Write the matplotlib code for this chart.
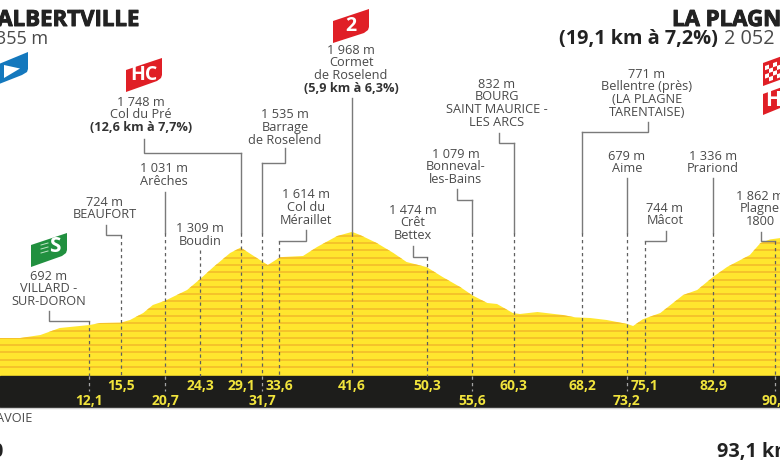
import numpy as np
import matplotlib
matplotlib.use('Agg')
import matplotlib.pyplot as plt
import matplotlib.patheffects as pe
from matplotlib.patches import Polygon, Rectangle

plt.rcParams['font.family'] = ['Open Sans', 'DejaVu Sans']

# profile
km_points = [1.6, 3.9, 6.2, 8.4, 11.8, 13.0, 15.3, 16.4, 17.9, 19.0, 20.4, 22.9, 24.4, 25.9, 27.8, 29.0,
             31.2, 32.1, 33.5, 36.1, 37.7, 40.0, 41.7, 42.6, 44.5, 46.4, 47.9, 50.2, 52.0, 54.0, 55.4,
             57.1, 58.2, 60.0, 60.8, 62.8, 65.7, 67.1, 68.8, 70.7, 73.0, 73.7, 74.8, 76.8, 79.4, 81.0,
             82.8, 84.4, 87.0, 88.2, 89.3, 90.5]
elev_points = [482, 482, 524, 622, 664, 692, 696, 734, 832, 944, 1004, 1154, 1309, 1476, 1672, 1748,
               1574, 1504, 1614, 1630, 1756, 1910, 1968, 1924, 1812, 1672, 1546, 1474, 1336, 1196, 1079,
               972, 958, 832, 818, 846, 804, 771, 762, 734, 679, 650, 744, 832, 1084, 1154,
               1336, 1476, 1644, 1812, 1862, 1882]

# drawn mark position, printed km and its row in the black band
tick_km = [11.73, 15.32, 20.44, 24.37, 29.04, 31.44, 33.37, 41.65, 50.26, 55.35, 60.08, 67.92, 73.0, 75.0, 82.8, 89.9]
tick_labels = ['12,1', '15,5', '20,7', '24,3', '29,1', '31,7', '33,6', '41,6', '50,3', '55,6', '60,3', '68,2',
               '73,2', '75,1', '82,9', '90,2']
tick_row = [1, 0, 1, 0, 0, 1, 0, 0, 0, 1, 0, 0, 1, 0, 0, 1]

place_names = [
    ['692 m', 'VILLARD -', 'SUR-DORON'],
    ['724 m', 'BEAUFORT'],
    ['1 031 m', 'Arêches'],
    ['1 309 m', 'Boudin'],
    ['1 748 m', 'Col du Pré', '(12,6 km à 7,7%)'],
    ['1 535 m', 'Barrage', 'de Roselend'],
    ['1 614 m', 'Col du', 'Méraillet'],
    ['1 968 m', 'Cormet', 'de Roselend', '(5,9 km à 6,3%)'],
    ['1 474 m', 'Crêt', 'Bettex'],
    ['1 079 m', 'Bonneval-', 'les-Bains'],
    ['832 m', 'BOURG', 'SAINT MAURICE -', 'LES ARCS'],
    ['771 m', 'Bellentre (près)', '(LA PLAGNE', 'TARENTAISE)'],
    ['679 m', 'Aime'],
    ['744 m', 'Mâcot'],
    ['1 336 m', 'Prariond'],
    ['1 862 m', 'Plagne', '1800'],
]

# layout in pixels: label centre x, first line y, stub x, stub top y, elbow y
label_xy = [(49, 276), (105, 202), (164, 169), (200, 229), (141, 102), (285, 115), (306, 195), (351, 50),
            (413, 210), (456, 154), (497, 84), (647, 74), (627, 156), (665, 208), (713, 156), (760, 196)]
stubs = [(49, 311, 321), (106, 225, 235), None, None, (144, 139, 153), (285, 148, 163), (306, 230, 241), None,
         (412.5, 246, 257), (457, 189, 200), (499, 133, 143), (647.5, 122, 132), None, (666, 231, 241), None,
         (761, 232, 241)]
line_tops = [None, None, 192, 250, None, None, None, 98, None, None, None, None, 178, None, 178, None]

YELLOW = '#ffe62e'
STRIPE = '#f3b92a'
BLACK = '#1d1d1b'
TEXT = '#4a4a4a'
LINE = '#7a7a7a'
NARROW = ['Liberation Sans Narrow', 'Open Sans']
BAND_TOP = 376
BAND_BOTTOM = 407
SOLID_END = 233

fig = plt.figure(figsize=(7.8, 4.7), dpi=100)
ax = fig.add_axes([0, 0, 1, 1])
ax.set_xlim(1.59, 90.43)
ax.set_ylim(-1366, 5214)
ax.axis('off')
px = fig.add_axes([0, 0, 1, 1], facecolor='none')
px.set_xlim(0, 780)
px.set_ylim(470, 0)
px.axis('off')


def km_x(km):
    return px.transData.inverted().transform(ax.transData.transform((km, 0)))[0]


# yellow profile with its 100 m stripes
base = -50
outline = list(zip(km_points, elev_points)) + [(km_points[-1], base), (km_points[0], base)]
outline = [(1.0, 482)] + outline + [(1.0, base)]
mountain = Polygon(outline, closed=True, facecolor=YELLOW, edgecolor='none', zorder=1)
ax.add_patch(mountain)
stripes = ax.hlines(np.arange(76, 2100, 102), 0, 92, color=STRIPE, lw=1.1, zorder=2)
stripes.set_clip_path(mountain)

px.add_patch(Rectangle((0, BAND_TOP), 780, BAND_BOTTOM - BAND_TOP, color=BLACK, zorder=3))
px.plot([0, 780], [BAND_BOTTOM + 0.5] * 2, color='#cfcfcf', lw=1, zorder=3)

for i, km in enumerate(tick_km):
    x = km_x(km)
    stub = stubs[i]
    if stub is not None:
        px.plot([stub[0], stub[0], x], [stub[1], stub[2], stub[2]], color=LINE, lw=1, zorder=4,
                solid_joinstyle='miter')
        start = stub[2]
    else:
        start = line_tops[i]
    if start < SOLID_END:
        px.plot([x, x], [start, SOLID_END], color=LINE, lw=1, zorder=4)
        start = SOLID_END
    px.plot([x, x], [start, BAND_TOP], color='#5f5f5f', lw=0.9, ls=(0, (2.6, 2.6)), zorder=4)
    if tick_row[i] == 1:
        px.plot([x, x], [BAND_TOP, 391], color='#a5a5a5', lw=0.9, ls=(0, (2.6, 2.6)), zorder=4)
    px.text(x, 385.7 + 15 * tick_row[i], tick_labels[i], color='#f0e33c', fontsize=10, fontweight='bold',
            ha='center', va='center', zorder=5)

    lx, ly = label_xy[i]
    for j, line in enumerate(place_names[i]):
        bold = '%' in line
        px.text(lx, ly + 12.7 * j, line, color='#333333' if bold else TEXT, fontsize=9.2,
                fontweight='bold' if bold else 'normal', ha='center', va='center', zorder=5)


def flag(xs, ys, color):
    px.add_patch(Polygon(list(zip(xs, ys)), closed=True, facecolor=color, edgecolor='none', zorder=6))


# climb and sprint flags
flag([-6, 28, 28, 27, 22, -6], [66, 52, 69, 72, 75, 86], '#1478bd')
flag([4, 20, 4], [65, 68.5, 78], 'white')
flag([126, 162, 162, 161, 157, 126], [70, 58, 75, 78, 81, 92], '#e01f26')
px.text(144, 75, 'HC', color='white', fontsize=14, fontweight='bold', ha='center', va='center', zorder=7,
        family=NARROW)
flag([333, 369, 369, 368, 364, 333], [21, 9, 27, 30, 33, 43], '#e01f26')
px.text(351, 26, '2', color='white', fontsize=14, fontweight='bold', ha='center', va='center', zorder=7,
        family=NARROW)
flag([31, 67, 67, 66, 62, 31], [245, 233, 250, 253, 256, 267], '#21903f')
px.text(55, 247, 'S', color='white', fontsize=15, fontweight='bold', ha='center', va='center', zorder=7,
        family=NARROW)
px.plot([41, 48], [245, 243], color='#bfe3c6', lw=0.7, zorder=7)
px.plot([41, 48], [249, 247], color='#bfe3c6', lw=0.7, zorder=7)
px.plot([41, 48], [253, 251], color='#bfe3c6', lw=0.7, zorder=7)

flag([763, 785, 785, 763], [63, 55, 78, 86], '#e01f26')
for row in range(4):
    for col in range(4):
        if (row + col) % 2 == 0:
            cx = 765 + col * 4
            cy = 66 + row * 4.2 - col * 1.45
            flag([cx, cx + 4, cx + 4, cx], [cy, cy - 1.4, cy + 2.8, cy + 4.2], 'white')
flag([763, 785, 785, 763], [94, 86, 106, 115], '#e01f26')
px.text(773, 100, 'H', color='white', fontsize=15, fontweight='bold', ha='center', va='center', zorder=7,
        family=NARROW)

# titles
heavy = [pe.withStroke(linewidth=0.7, foreground='#222222')]
px.text(140, 26, 'ALBERTVILLE', color='#222222', fontsize=16, fontweight='bold', ha='right', va='baseline',
        path_effects=heavy)
px.text(48, 44, '355 m', color=TEXT, fontsize=13, ha='right', va='baseline')
px.text(672, 26, 'LA PLAGNE', color='#222222', fontsize=16, fontweight='bold', ha='left', va='baseline',
        path_effects=heavy)
px.text(559, 44, '(19,1 km à 7,2%)', color='#222222', fontsize=14.3, fontweight='bold', ha='left', va='baseline')
px.text(724, 44, '2 052 m', color=TEXT, fontsize=14.3, ha='left', va='baseline')
px.text(33, 418, 'SAVOIE', color=TEXT, fontsize=9.2, ha='right', va='center')
px.text(3, 457, '0', color='#222222', fontsize=14.3, fontweight='bold', ha='right', va='baseline')
px.text(717, 457, '93,1 km', color='#222222', fontsize=14.3, fontweight='bold', ha='left', va='baseline')

fig.savefig('out.png', dpi=100, facecolor='white')
